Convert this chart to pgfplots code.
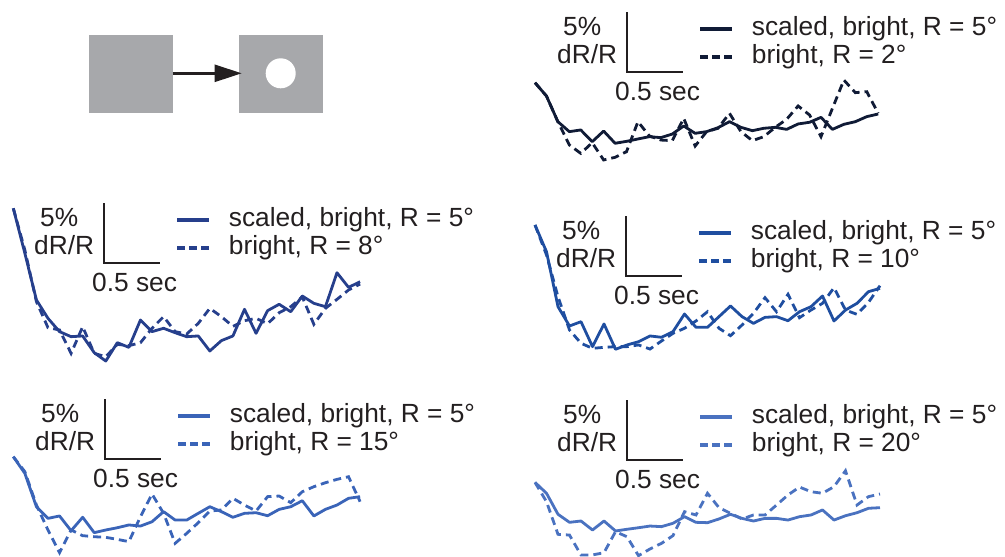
\documentclass[border=0pt]{standalone}
\usepackage{fontspec}
\setmainfont{Liberation Sans}
\usepackage{pgfplots}
\usepackage{pgfplotstable}
\pgfplotsset{compat=1.18}
\usetikzlibrary{arrows.meta}
\definecolor{txt}{HTML}{231F20}
\definecolor{cA}{HTML}{101B36}
\definecolor{cB}{HTML}{263F8C}
\definecolor{cC}{HTML}{1F4EA0}
\definecolor{cD}{HTML}{3A64B8}
\definecolor{cE}{HTML}{4A72C0}
\definecolor{sq}{HTML}{A7A8AB}

\pgfplotstableread{
t s d
0.0 6.86 6.86
0.1 5.75 5.75
0.2 3.61 3.61
0.3 2.78 1.67
0.4 2.92 0.97
0.5 1.94 1.86
0.6 2.83 0.42
0.7 1.81 0.64
0.8 1.97 1.11
0.9 2.17 3.61
1.0 2.36 2.42
1.1 2.28 2.08
1.2 2.58 2.03
1.3 3.25 3.89
1.4 2.64 1.58
1.5 2.78 2.78
1.6 3.11 3.06
1.7 3.61 4.31
1.8 3.14 2.78
1.9 2.86 2.03
2.0 3.06 2.36
2.1 3.14 3.14
2.2 2.97 3.81
2.3 3.42 4.92
2.4 3.56 4.17
2.5 3.97 2.36
2.6 2.97 4.72
2.7 3.39 7.08
2.8 3.61 6.03
2.9 4.03 6.11
3.0 4.25 4.31
}\dataA

\pgfplotstableread{
t s d
0.0 13.06 13.06
0.1 9.31 9.58
0.2 5.42 5.28
0.3 3.89 3.11
0.4 2.78 2.92
0.5 2.36 0.97
0.6 2.42 3.19
0.7 1.03 0.97
0.8 0.33 0.69
0.9 1.86 1.72
1.0 1.47 1.61
1.1 3.75 1.86
1.2 2.78 3.06
1.3 3.06 4.03
1.4 2.69 2.78
1.5 2.36 2.58
1.6 2.42 3.47
1.7 1.17 4.72
1.8 2.03 4.03
1.9 2.42 3.22
2.0 4.64 3.69
2.1 2.64 3.89
2.2 4.53 3.44
2.3 5.06 4.36
2.4 4.44 4.86
2.5 5.75 5.67
2.6 5.14 3.39
2.7 4.86 4.72
2.8 7.69 5.47
2.9 6.47 6.25
3.0 6.94 6.75
}\dataB

\pgfplotstableread{
t s d
0.0 10.42 10.42
0.1 8.19 7.92
0.2 3.61 4.44
0.3 2.00 1.67
0.4 2.36 0.56
0.5 0.28 0.14
0.6 2.17 0.22
0.7 0.06 0.28
0.8 0.42 0.28
0.9 0.69 0.42
1.0 1.17 0.08
1.1 1.06 0.75
1.2 1.53 1.39
1.3 3.00 1.81
1.4 1.89 2.42
1.5 1.89 3.19
1.6 2.78 1.81
1.7 3.67 1.19
1.8 2.78 2.08
1.9 2.22 3.06
2.0 2.72 4.36
2.1 2.78 3.19
2.2 2.44 4.64
2.3 3.19 2.69
2.4 3.61 3.33
2.5 4.50 3.89
2.6 2.42 5.19
2.7 3.33 3.33
2.8 3.89 2.97
2.9 4.86 3.97
3.0 5.14 5.36
}\dataC

\pgfplotstableread{
t s d
0.0 8.36 8.36
0.1 6.97 7.11
0.2 4.19 4.33
0.3 3.22 2.25
0.4 3.42 0.36
0.5 2.19 2.25
0.6 3.31 1.78
0.7 2.03 1.69
0.8 2.25 1.64
0.9 2.44 1.47
1.0 2.67 1.28
1.1 2.58 3.36
1.2 2.94 5.25
1.3 3.78 3.64
1.4 3.08 1.14
1.5 3.08 1.97
1.6 3.64 2.86
1.7 4.19 3.83
1.8 3.78 3.92
1.9 3.31 4.89
2.0 3.64 4.33
2.1 3.69 3.83
2.2 3.44 5.03
2.3 3.97 5.08
2.4 4.19 4.53
2.5 4.69 5.44
2.6 3.42 5.86
2.7 3.97 6.19
2.8 4.33 6.47
2.9 4.89 6.69
3.0 5.03 4.61
}\dataD

\pgfplotstableread{
t s d
0.0 6.22 6.22
0.1 5.31 4.61
0.2 3.56 1.89
0.3 2.89 1.83
0.4 3.00 0.17
0.5 2.25 0.17
0.6 3.00 0.36
0.7 2.17 2.11
0.8 2.31 1.69
0.9 2.44 0.11
1.0 2.58 0.67
1.1 2.53 1.14
1.2 2.81 1.78
1.3 3.36 3.78
1.4 2.89 3.50
1.5 2.86 5.31
1.6 3.17 4.11
1.7 3.56 3.64
1.8 3.22 3.17
1.9 3.00 3.50
2.0 3.22 3.50
2.1 3.22 4.33
2.2 3.08 5.17
2.3 3.36 5.83
2.4 3.50 5.44
2.5 3.92 5.31
2.6 3.08 5.86
2.7 3.44 7.19
2.8 3.69 4.33
2.9 4.06 5.03
3.0 4.11 5.25
}\dataE

\pgfplotsset{
  trace/.style={hide axis, clip=false, xmin=0, xmax=3, ymin=0, ymax=14,
    anchor=south west, y=12pt},
  solidtr/.style={line width=2.8pt, line join=round, no markers},
  dashtr/.style={line width=2.8pt, dash pattern=on 8pt off 5pt, no markers}
}

\newcommand{\panel}[4]{%
\begin{scope}[shift={(#1pt,-#2pt)}]
\draw[txt, line width=2.2pt] (626.7pt,-12pt) -- (626.7pt,-72pt) -- (683pt,-72pt);
\node[anchor=base west] at (563pt,-35pt) {5\%};
\node[anchor=base west] at (557pt,-63.3pt) {dR/R};
\node[anchor=base west] at (615pt,-100pt) {0.5 sec};
\draw[#3, line width=4.2pt] (700pt,-29pt) -- (732pt,-29pt);
\draw[#3, line width=4.2pt, dash pattern=on 8pt off 4pt] (700pt,-57pt) -- (732pt,-57pt);
\node[anchor=base west] at (751.7pt,-35pt) {scaled, bright, R = 5°};
\node[anchor=base west] at (751.7pt,-63.3pt) {bright, R = #4°};
\end{scope}}

\begin{document}
\begin{tikzpicture}[every node/.style={inner sep=0pt, text=txt, font=\fontsize{26.3}{30}\selectfont}]
% schematic
\fill[sq] (89.3pt,-35pt) rectangle (172.7pt,-112.7pt);
\fill[sq] (239pt,-35pt) rectangle (323.3pt,-112.7pt);
\fill[white] (280.7pt,-73.3pt) circle (15pt);
\draw[-{Triangle[length=27pt,width=17pt]}, line width=2.5pt, txt] (172.7pt,-73.3pt) -- (241.7pt,-73.3pt);

\panel{0}{0}{cA}{2}
\panel{-523}{191}{cB}{8}
\panel{-1}{204}{cC}{10}
\panel{-522}{387}{cD}{15}
\panel{0}{388}{cE}{20}

\begin{axis}[trace, x=114.4pt, at={(535pt,-165pt)}]
\addplot[cA, dashtr] table[x=t,y=d] {\dataA};
\addplot[cA, solidtr] table[x=t,y=s] {\dataA};
\end{axis}
\begin{axis}[trace, x=115.6pt, at={(13.3pt,-365pt)}]
\addplot[cB, dashtr] table[x=t,y=d] {\dataB};
\addplot[cB, solidtr] table[x=t,y=s] {\dataB};
\end{axis}
\begin{axis}[trace, x=115pt, at={(535pt,-350pt)}]
\addplot[cC, dashtr] table[x=t,y=d] {\dataC};
\addplot[cC, solidtr] table[x=t,y=s] {\dataC};
\end{axis}
\begin{axis}[trace, x=115.6pt, at={(13.3pt,-557pt)}]
\addplot[cD, dashtr] table[x=t,y=d] {\dataD};
\addplot[cD, solidtr] table[x=t,y=s] {\dataD};
\end{axis}
\begin{axis}[trace, x=115pt, at={(535pt,-557pt)}]
\addplot[cE, dashtr] table[x=t,y=d] {\dataE};
\addplot[cE, solidtr] table[x=t,y=s] {\dataE};
\end{axis}

\pgfresetboundingbox
\path[use as bounding box] (0pt,0pt) rectangle (1005pt,-557pt);
\end{tikzpicture}
\end{document}
